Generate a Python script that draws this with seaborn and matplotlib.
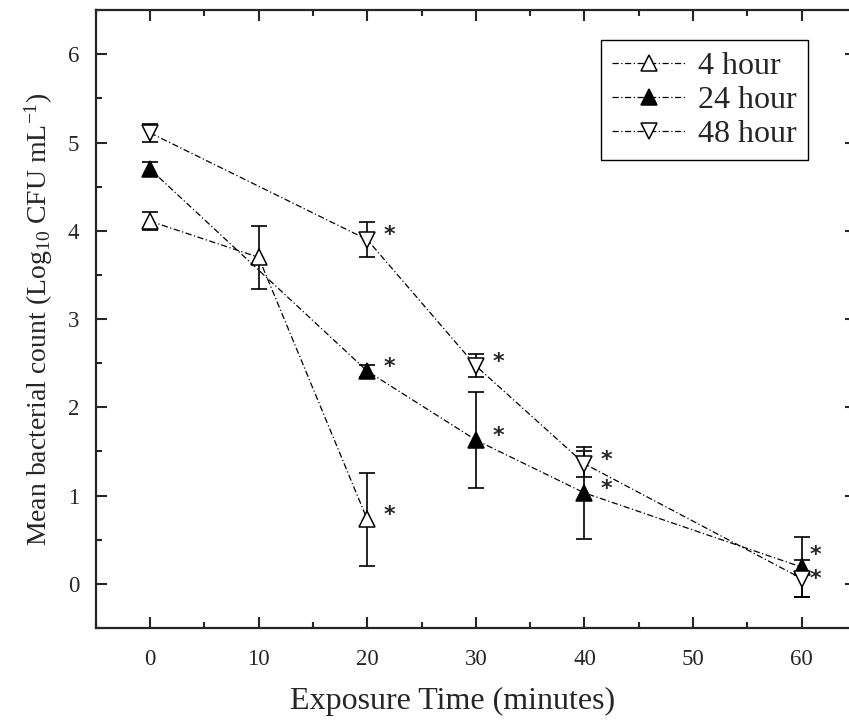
import matplotlib
matplotlib.use("Agg")
import matplotlib.pyplot as plt
import seaborn as sns
import pandas as pd
from matplotlib.ticker import MultipleLocator

# data
time_4h = [0, 10, 20]
mean_4h = [4.11, 3.70, 0.73]
err_4h = [0.10, 0.36, 0.53]
sig_4h = [False, False, True]

time_24h = [0, 20, 30, 40, 60]
mean_24h = [4.70, 2.41, 1.63, 1.03, 0.19]
err_24h = [0.08, 0.07, 0.54, 0.52, 0.34]
sig_24h = [False, True, True, True, True]

time_48h = [0, 20, 30, 40, 60]
mean_48h = [5.11, 3.90, 2.47, 1.36, 0.06]
err_48h = [0.10, 0.20, 0.13, 0.15, 0.21]
sig_48h = [False, True, True, True, True]

series = [
    ("4 hour", time_4h, mean_4h, err_4h, sig_4h, "^", "white"),
    ("24 hour", time_24h, mean_24h, err_24h, sig_24h, "^", "black"),
    ("48 hour", time_48h, mean_48h, err_48h, sig_48h, "v", "white"),
]

sns.set_style("ticks")
plt.rcParams["font.family"] = ["Liberation Serif", "DejaVu Serif"]
plt.rcParams["mathtext.fontset"] = "custom"
plt.rcParams["mathtext.rm"] = "Liberation Serif"
plt.rcParams["mathtext.it"] = "Liberation Serif:italic"

fig = plt.figure(figsize=(8.49, 7.26), dpi=100)
ax = fig.add_axes([0.1127, 0.135, 0.8956, 0.851])

dash_dot = (0, (5, 2, 1, 2))

for label, t, m, e, sig, mk, fc in series:
    df = pd.DataFrame({"time": t, "count": m})
    ax.errorbar(t, m, yerr=e, fmt="none", ecolor="black", elinewidth=1.2,
                capsize=6, capthick=1.2, zorder=2)
    sns.lineplot(data=df, x="time", y="count", ax=ax, label=label,
                 color="black", linewidth=0.9, linestyle=dash_dot,
                 marker=mk, markersize=12, markerfacecolor=fc,
                 markeredgecolor="black", markeredgewidth=1.1, zorder=3)
    # significance stars, nudged apart where two series meet at 60 min
    for xi, yi, s in zip(t, m, sig):
        if s:
            dx = 10 if xi == 60 else 16
            dy = 3
            if xi == 60:
                dy = 9 if fc == "black" else 0
            ax.annotate("*", (xi, yi), xytext=(dx, dy), textcoords="offset points",
                        ha="center", va="center", fontsize=16, fontweight="bold",
                        family="DejaVu Sans")

ax.set_xlim(-5, 65)
ax.set_ylim(-0.5, 6.5)
ax.xaxis.set_major_locator(MultipleLocator(10))
ax.xaxis.set_minor_locator(MultipleLocator(5))
ax.yaxis.set_major_locator(MultipleLocator(1))
ax.yaxis.set_minor_locator(MultipleLocator(0.5))
ax.tick_params(which="both", direction="in", top=True, right=True, width=1.5)
ax.tick_params(which="major", length=8, labelsize=16.5)
ax.tick_params(which="minor", length=4.5)
ax.tick_params(axis="x", which="major", pad=15)
ax.tick_params(axis="y", which="major", pad=12)
for sp in ax.spines.values():
    sp.set_linewidth(1.6)

ax.set_xlabel("Exposure Time (minutes)", fontsize=23, labelpad=14)
ax.xaxis.set_label_coords(0.469, -0.095)
ax.set_ylabel(r"Mean bacterial count (Log$_{\mathrm{10}}$ CFU mL$^{\mathrm{-1}}$)",
              fontsize=20, labelpad=9)

leg = ax.legend(loc="upper right", bbox_to_anchor=(0.937, 0.951), borderaxespad=0,
                fontsize=23, handlelength=2.3, frameon=True, fancybox=False,
                edgecolor="black", framealpha=1, borderpad=0.35, labelspacing=0.15,
                handletextpad=0.4)
leg.get_frame().set_linewidth(1.0)

fig.savefig("out.png", dpi=100)
